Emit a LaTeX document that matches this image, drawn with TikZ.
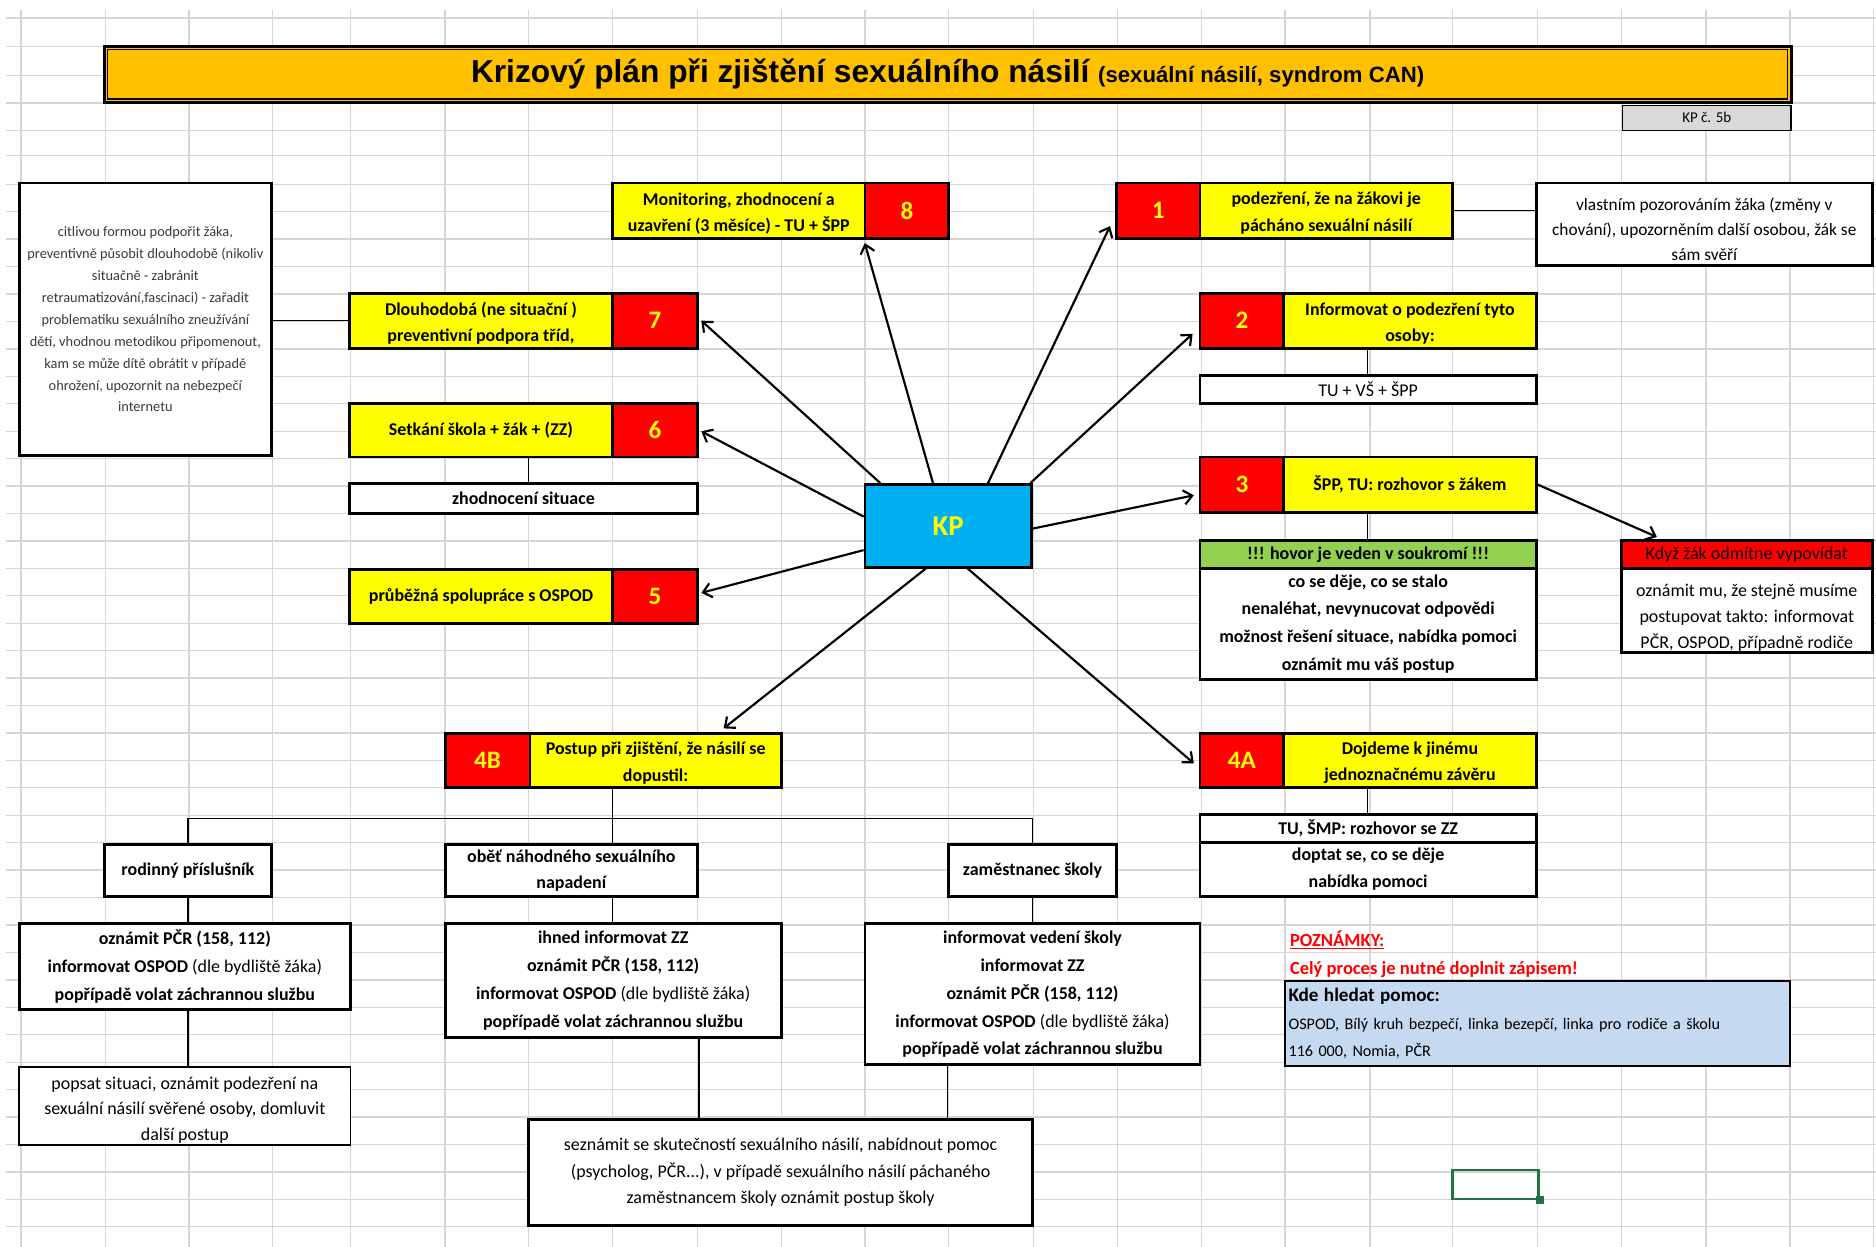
\documentclass[tikz,border=0pt]{standalone}
\usepackage{fontspec}
\setmainfont{Carlito}
\newfontfamily\titlefont{Liberation Sans}
\usetikzlibrary{arrows.meta,calc}

\definecolor{gridgray}{HTML}{D6D6D6}
\definecolor{titleorange}{HTML}{FFC000}
\definecolor{cellyellow}{HTML}{FFFF00}
\definecolor{cellred}{HTML}{FF0000}
\definecolor{kpblue}{HTML}{00B0F0}
\definecolor{cellgreen}{HTML}{92D050}
\definecolor{helpblue}{HTML}{C5D9F1}
\definecolor{labelgray}{HTML}{D9D9D9}
\definecolor{selgreen}{HTML}{217346}
\definecolor{softtext}{HTML}{3A3A3A}

% box given by its corners: name, style, x1, y1, x2, y2, text
\newcommand\xbox[7]{%
  \pgfmathsetmacro\cbW{#5-#3}%
  \pgfmathsetmacro\cbH{#6-#4}%
  \node[cell,#2,minimum width=\cbW pt,minimum height=\cbH pt] (#1) at ({(#3+#5)/2},{(#4+#6)/2}) {#7};}

\begin{document}
\begin{tikzpicture}[x=1pt,y=-1pt,
  gridline/.style={draw=gridgray,line width=1.1pt},
  cell/.style={draw,line width=2.4pt,inner sep=0pt,align=center,fill=white,
    font=\fontsize{15}{23.3}\selectfont\bfseries},
  plain/.style={font=\fontsize{15}{22}\selectfont\mdseries},
  ycell/.style={fill=cellyellow},
  rcell/.style={fill=cellred,text=cellyellow,font=\fontsize{21}{23}\selectfont\bfseries},
  conn/.style={line width=1.2pt},
  arr/.style={line width=1.8pt,-{Straight Barb[length=7pt,width=12pt,line width=1.8pt]}},
]
\useasboundingbox (0,0) rectangle (1568,1042);
\fill[white] (0,0) rectangle (1568,1042);

% sheet grid
\foreach \gx in {17.5,88,158,228,293,372,442,512,583,653,723,793,864,934,1004,1074,1145,1214,1285,1355,1426,1496,1566}
  \draw[gridline] (\gx,8) -- (\gx,1042);
\foreach \gy in {15,39,63,86,109,130}
  \draw[gridline] (5,\gy) -- (1568,\gy);
\foreach \k in {0,...,38}
  \draw[gridline] (5,{154+22.93*\k}) -- (1568,{154+22.93*\k});

% heading
\node[draw,line width=2.4pt,fill=titleorange,
  minimum width=1410pt,minimum height=47pt,inner sep=0pt] (title) at (792,62)
  {\titlefont\bfseries\fontsize{26.5}{28}\selectfont Krizový plán při zjištění sexuálního násilí
   {\fontsize{18.5}{28}\selectfont (sexuální násilí, syndrom CAN)}};
\draw[line width=1.1pt] ([shift={(4pt,-4pt)}]title.north west) rectangle ([shift={(-4pt,4pt)}]title.south east);
\xbox{kpno}{fill=labelgray,line width=1.3pt,font=\fontsize{12.5}{14}\selectfont\mdseries}{1356}{88}{1497}{109}{KP č. 5b}

% left column
\xbox{prev}{font=\fontsize{12}{18.3}\selectfont\mdseries,text=softtext}{16}{153}{227}{381}
  {citlivou formou podpořit žáka,\\ preventivně působit dlouhodobě (nikoliv\\ situačně - zabránit\\
   retraumatizování,fascinaci) - zařadit\\ problematiku sexuálního zneužívání\\
   dětí, vhodnou metodikou připomenout,\\ kam se může dítě obrátit v případě\\
   ohrožení, upozornit na nebezpečí\\ internetu}

\xbox{s8y}{ycell,font=\fontsize{15}{22}\selectfont\bfseries}{512}{153}{723}{199}{\rule{0pt}{15pt}Monitoring, zhodnocení a\\ uzavření (3 měsíce) - TU + ŠPP}
\xbox{s8r}{rcell}{723}{153}{793}{199}{8}
\xbox{s7y}{ycell,font=\fontsize{15}{22}\selectfont\bfseries}{292}{245}{512}{291}{\rule{0pt}{15pt}Dlouhodobá (ne situační )\\ preventivní podpora tříd,}
\xbox{s7r}{rcell}{512}{245}{583}{291}{7}
\xbox{s6y}{ycell}{292}{337}{512}{382}{Setkání škola + žák + (ZZ)}
\xbox{s6r}{rcell}{512}{337}{583}{382}{6}
\xbox{eval}{}{292}{404}{583}{429}{zhodnocení situace}
\xbox{s5y}{ycell}{292}{476}{512}{521}{průběžná spolupráce s OSPOD}
\xbox{s5r}{rcell}{512}{476}{583}{521}{5}

% centre
\xbox{kp}{fill=kpblue,text=cellyellow,font=\fontsize{24}{26}\selectfont\bfseries}{723}{405}{862}{474}{KP}

% right column
\xbox{s1r}{rcell}{933}{153}{1003}{199}{1}
\xbox{s1y}{ycell,font=\fontsize{15}{22}\selectfont\bfseries}{1003}{153}{1214}{199}{\rule{0pt}{15pt}podezření, že na žákovi je\\ pácháno sexuální násilí}
\xbox{obs}{font=\fontsize{14.5}{21}\selectfont\mdseries}{1284}{153}{1565}{222}
  {\rule{0pt}{19pt}vlastním pozorováním žáka (změny v\\ chování), upozorněním další osobou, žák se\\ sám svěří}
\xbox{s2r}{rcell}{1003}{245}{1073}{291}{2}
\xbox{s2y}{ycell,font=\fontsize{15}{22}\selectfont\bfseries}{1073}{245}{1284}{291}{\rule{0pt}{15pt}Informovat o podezření tyto\\ osoby:}
\xbox{who}{plain}{1003}{314}{1284}{337}{TU + VŠ + ŠPP}
\xbox{s3r}{rcell}{1003}{382}{1073}{428}{3}
\xbox{s3y}{ycell}{1073}{382}{1284}{428}{ŠPP, TU: rozhovor s žákem}
\xbox{priv}{fill=cellgreen}{1003}{452}{1284}{475}{!!! hovor je veden v soukromí !!!}
\xbox{talk}{}{1003}{475}{1284}{568}
  {co se děje, co se stalo\\ nenaléhat, nevynucovat odpovědi\\ možnost řešení situace, nabídka pomoci\\ oznámit mu váš postup}
\xbox{refh}{fill=cellred,plain}{1355}{452}{1565}{475}{Když žák odmítne vypovídat}
\xbox{refb}{plain}{1355}{475}{1565}{545}
  {\rule{0pt}{23pt}oznámit mu, že stejně musíme\\ postupovat takto: informovat\\ PČR, OSPOD, případně rodiče}

\xbox{s4ar}{rcell}{1003}{613}{1073}{658}{4A}
\xbox{s4ay}{ycell,font=\fontsize{15}{22}\selectfont\bfseries}{1073}{613}{1284}{658}{\rule{0pt}{15pt}Dojdeme k jinému\\ jednoznačnému závěru}
\xbox{smp}{}{1003}{681}{1284}{704}{TU, ŠMP: rozhovor se ZZ}
\xbox{smpb}{font=\fontsize{15}{22}\selectfont\bfseries}{1003}{704}{1284}{749}{doptat se, co se děje\\ nabídka pomoci}

% lower branch
\xbox{s4br}{rcell}{372}{613}{443}{658}{4B}
\xbox{s4by}{ycell,font=\fontsize{15}{22}\selectfont\bfseries}{443}{613}{653}{658}{\rule{0pt}{15pt}Postup při zjištění, že násilí se\\ dopustil:}
\xbox{fam}{}{87}{706}{227}{749}{rodinný příslušník}
\xbox{vic}{font=\fontsize{15}{22}\selectfont\bfseries}{372}{706}{583}{749}{oběť náhodného sexuálního\\ napadení}
\xbox{emp}{}{793}{706}{933}{749}{zaměstnanec školy}
\xbox{famA}{}{16}{772}{293}{844}
  {oznámit PČR (158, 112)\\ informovat OSPOD {\mdseries(dle bydliště žáka)}\\ popřípadě volat záchrannou službu}
\xbox{famB}{plain,line width=1.3pt,font=\fontsize{15}{21.5}\selectfont\mdseries}{16}{892}{293}{957}
  {\rule{0pt}{17pt}popsat situaci, oznámit podezření na\\ sexuální násilí svěřené osoby, domluvit\\ další postup}
\xbox{vicA}{}{372}{772}{653}{867}
  {ihned informovat ZZ\\ oznámit PČR (158, 112)\\ informovat OSPOD {\mdseries(dle bydliště žáka)}\\ popřípadě volat záchrannou službu}
\xbox{empA}{}{723}{772}{1003}{890}
  {informovat vedení školy\\ informovat ZZ\\ oznámit PČR (158, 112)\\ informovat OSPOD {\mdseries(dle bydliště žáka)}\\ popřípadě volat záchrannou službu}
\xbox{fin}{plain}{442}{936}{863}{1024}
  {seznámit se skutečností sexuálního násilí, nabídnout pomoc\\ (psycholog, PČR...), v případě sexuálního násilí páchaného\\ zaměstnancem školy oznámit postup školy}

% notes
\node[anchor=west,inner sep=0pt,text=cellred,font=\fontsize{15.5}{18}\selectfont\bfseries] (notes) at (1078,786) {\underline{POZNÁMKY:}};
\node[anchor=west,inner sep=0pt,text=cellred,font=\fontsize{15.5}{18}\selectfont\bfseries] (record) at (1078,810) {Celý proces je nutné doplnit zápisem!};
\xbox{help}{fill=helpblue,line width=1.3pt,align=left,text width=416pt,font=\fontsize{13.5}{23}\selectfont\mdseries}{1074}{820}{1496}{891}
  {{\fontsize{16}{23}\selectfont\bfseries Kde hledat pomoc:}\\ OSPOD, Bílý kruh bezpečí, linka bezepčí, linka pro rodiče a školu\\ 116 000, Nomia, PČR}

% active cell marker
\node[draw=selgreen,line width=2pt,minimum width=72pt,minimum height=24pt,inner sep=0pt] (sel) at (1250,990) {};
\fill[selgreen] ([shift={(-3pt,-3pt)}]sel.south east) rectangle ([shift={(3.5pt,3pt)}]sel.south east);

% plain connectors
\draw[conn] (s7y.west) -- (s7y.west -| prev.east);
\draw[conn] (s1y.east) -- (s1y.east -| obs.west);
\coordinate (j6) at ([xshift=151pt]s6y.south west);
\draw[conn] (j6) -- (j6 |- eval.north);
\coordinate (j2) at ([xshift=71pt]s2y.south west);
\draw[conn] (j2) -- (j2 |- who.north);
\coordinate (j3) at ([xshift=71pt]s3y.south west);
\draw[conn] (j3) -- (j3 |- priv.north);
\coordinate (j4a) at ([xshift=71pt]s4ay.south west);
\draw[conn] (j4a) -- (j4a |- smp.north);
\coordinate (j4b) at ([xshift=70pt]s4by.south west);
\coordinate (bus) at ([yshift=-25pt]j4b);
\draw[conn] (j4b) -- (j4b |- vic.north);
\draw[conn] (fam.north) |- (bus) -| (emp.north);
\draw[conn] (fam.south) -- (fam.south |- famA.north);
\draw[conn] (j4b |- vic.south) -- (j4b |- vicA.north);
\draw[conn] (emp.south) -- (emp.south |- empA.north);
\draw[conn] (fam.south |- famA.south) -- (fam.south |- famB.north);
\coordinate (jv) at ([xshift=-70pt]vicA.south east);
\draw[conn] (jv) -- (jv |- fin.north);
\coordinate (je) at ([xshift=70pt]empA.south west);
\draw[conn] (je) -- (je |- fin.north);

% arrows out of the centre
\draw[arr] ([xshift=58pt]kp.north west) -- ([shift={(1pt,-3pt)}]s8r.south west);
\draw[arr] ([xshift=104pt]kp.north west) -- ([shift={(-4pt,-13pt)}]s1r.west);
\draw[arr] ([xshift=14pt]kp.north west) -- ([xshift=2pt]s7r.east);
\draw[arr] ([xshift=-2pt]kp.north east) -- ([shift={(-5pt,-11pt)}]s2r.west);
\draw[arr] ([yshift=-28pt]kp.north west) -- ([shift={(2pt,-1pt)}]s6r.east);
\draw[arr] ([yshift=-38pt]kp.north east) -- ([shift={(-4pt,-9pt)}]s3r.west);
\draw[arr] ([yshift=-56pt]kp.north west) -- ([shift={(2pt,3pt)}]s5r.east);
\draw[arr] ([xshift=52pt]kp.south west) -- ([shift={(163pt,3pt)}]s4by.north west);
\draw[arr] ([xshift=87pt]kp.south west) -- ([shift={(-4pt,-2.5pt)}]s4ar.west);
\draw[arr] (s3y.east) -- ([shift={(31pt,2pt)}]refh.north west);
\end{tikzpicture}
\end{document}
